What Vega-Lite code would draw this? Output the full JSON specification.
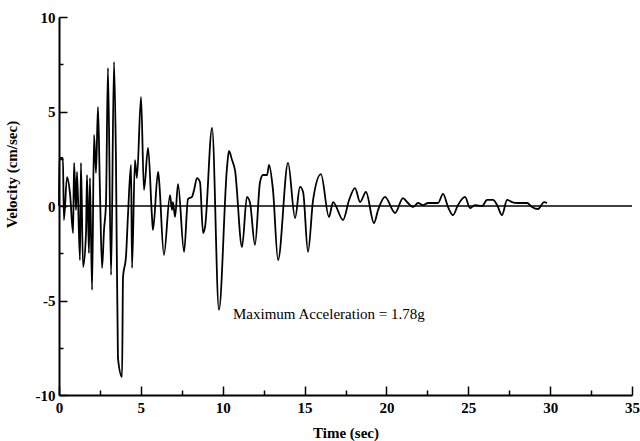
{
  "$schema": "https://vega.github.io/schema/vega-lite/v6.json",
  "width": 573,
  "height": 378,
  "autosize": {"type": "none"},
  "padding": {"left": 59, "top": 17, "right": 8, "bottom": 46},
  "background": "white",
  "config": {
    "view": {"stroke": null},
    "axis": {
      "domainColor": "black",
      "domainWidth": 2,
      "tickColor": "black",
      "tickWidth": 1.5,
      "grid": false,
      "labelFont": "Liberation Serif",
      "labelFontWeight": "bold",
      "labelFontSize": 15,
      "labelColor": "black",
      "labelOverlap": false,
      "labelFlush": false,
      "titleFont": "Liberation Serif",
      "titleFontWeight": "bold",
      "titleFontSize": 15,
      "titleColor": "black"
    }
  },
  "layer": [
    {
      "data": {"values": [{"v": 0}]},
      "mark": {"type": "rule", "color": "black", "strokeWidth": 1.5},
      "encoding": {
        "y": {"field": "v", "type": "quantitative", "scale": {"domain": [-10, 10]}}
      }
    },
    {
      "data": {"values": [
        {"t": 0, "v": 0}, {"t": 0.02, "v": 2.55}, {"t": 0.24, "v": 2.55}, {"t": 0.3, "v": -0.74},
        {"t": 0.49, "v": 1.53}, {"t": 0.67, "v": 0.69}, {"t": 0.86, "v": -1.43}, {"t": 0.92, "v": 2.28},
        {"t": 1.04, "v": -0.21}, {"t": 1.1, "v": 1.8}, {"t": 1.28, "v": -2.86}, {"t": 1.34, "v": 2.28},
        {"t": 1.47, "v": -3.23}, {"t": 1.65, "v": -1.43}, {"t": 1.71, "v": 1.64}, {"t": 1.83, "v": -2.49},
        {"t": 1.89, "v": 1.48}, {"t": 2.02, "v": -4.44}, {"t": 2.14, "v": 3.76}, {"t": 2.26, "v": 1.75},
        {"t": 2.38, "v": 5.24}, {"t": 2.5, "v": 0.85}, {"t": 2.63, "v": -3.28}, {"t": 2.75, "v": -1.27},
        {"t": 2.87, "v": 0.16}, {"t": 2.99, "v": 7.3}, {"t": 3.18, "v": -3.65}, {"t": 3.36, "v": 7.62},
        {"t": 3.48, "v": 2.43}, {"t": 3.6, "v": -8.04}, {"t": 3.85, "v": -9.05}, {"t": 3.91, "v": -3.76},
        {"t": 4.09, "v": -2.7}, {"t": 4.22, "v": -0.37}, {"t": 4.4, "v": 2.17}, {"t": 4.46, "v": -3.28},
        {"t": 4.64, "v": 2.43}, {"t": 4.76, "v": 1.48}, {"t": 5.01, "v": 5.77}, {"t": 5.19, "v": 0.85},
        {"t": 5.44, "v": 3.07}, {"t": 5.68, "v": -0.58}, {"t": 5.74, "v": -1.27}, {"t": 6.05, "v": 1.8},
        {"t": 6.11, "v": 1.38}, {"t": 6.41, "v": -2.59}, {"t": 6.78, "v": 0.58}, {"t": 6.9, "v": -0.21},
        {"t": 6.96, "v": 0.21}, {"t": 7.09, "v": -0.58}, {"t": 7.27, "v": 1.16}, {"t": 7.64, "v": -2.43},
        {"t": 7.88, "v": 0.37}, {"t": 8.12, "v": 0.48}, {"t": 8.25, "v": 0.85}, {"t": 8.43, "v": 1.48},
        {"t": 8.61, "v": 1.27}, {"t": 8.8, "v": -1.43}, {"t": 8.92, "v": -1.11}, {"t": 9.35, "v": 4.13},
        {"t": 9.77, "v": -5.5}, {"t": 10.26, "v": 2.01}, {"t": 10.38, "v": 2.91}, {"t": 10.57, "v": 2.43},
        {"t": 10.75, "v": 1.9}, {"t": 11.18, "v": -2.17}, {"t": 11.48, "v": 0.48}, {"t": 11.67, "v": 0.16},
        {"t": 11.97, "v": -2.06}, {"t": 12.28, "v": 1.27}, {"t": 12.46, "v": 1.64}, {"t": 12.71, "v": 1.64},
        {"t": 12.83, "v": 2.17}, {"t": 13.07, "v": 0.85}, {"t": 13.38, "v": -2.86}, {"t": 13.99, "v": 2.28},
        {"t": 14.42, "v": -0.64}, {"t": 14.72, "v": 1.01}, {"t": 14.91, "v": 0.74}, {"t": 15.21, "v": -2.43},
        {"t": 15.52, "v": 0.32}, {"t": 16.0, "v": 1.69}, {"t": 16.49, "v": -0.58}, {"t": 16.74, "v": 0.21},
        {"t": 17.35, "v": -0.74}, {"t": 17.72, "v": 0.32}, {"t": 18.08, "v": 0.95}, {"t": 18.39, "v": 0.21},
        {"t": 18.75, "v": 0.74}, {"t": 19.24, "v": -0.9}, {"t": 19.49, "v": -0.21}, {"t": 19.91, "v": 0.48},
        {"t": 20.53, "v": -0.37}, {"t": 21.01, "v": 0.42}, {"t": 21.26, "v": 0.21}, {"t": 21.63, "v": -0.05},
        {"t": 21.93, "v": 0.16}, {"t": 22.24, "v": 0.05}, {"t": 22.54, "v": 0.16}, {"t": 22.85, "v": 0.16},
        {"t": 23.15, "v": 0.16}, {"t": 23.46, "v": 0.64}, {"t": 23.76, "v": -0.05}, {"t": 24.07, "v": -0.48},
        {"t": 24.37, "v": 0.05}, {"t": 24.8, "v": 0.48}, {"t": 25.11, "v": -0.11}, {"t": 25.41, "v": 0.05},
        {"t": 25.84, "v": 0.0}, {"t": 26.15, "v": 0.32}, {"t": 26.51, "v": 0.32}, {"t": 26.76, "v": 0.05},
        {"t": 27.06, "v": -0.48}, {"t": 27.37, "v": 0.32}, {"t": 27.67, "v": 0.21}, {"t": 27.98, "v": 0.16},
        {"t": 28.28, "v": 0.16}, {"t": 28.59, "v": 0.16}, {"t": 28.89, "v": -0.05}, {"t": 29.26, "v": -0.16},
        {"t": 29.63, "v": 0.21}, {"t": 29.81, "v": 0.16}
      ]},
      "mark": {"type": "line", "color": "black", "strokeWidth": 1.8, "interpolate": "monotone"},
      "encoding": {
        "x": {
          "field": "t", "type": "quantitative",
          "scale": {"domain": [0, 35], "nice": false},
          "axis": {
            "title": "Time (sec)",
            "values": [0, 2.5, 5, 7.5, 10, 12.5, 15, 17.5, 20, 22.5, 25, 27.5, 30, 32.5, 35],
            "labelExpr": "datum.value % 5 === 0 ? '' + datum.value : ''",
            "tickSize": {"condition": {"test": "datum.value % 5 === 0", "value": -9}, "value": -5},
            "labelPadding": 14,
            "titlePadding": 6
          }
        },
        "y": {
          "field": "v", "type": "quantitative",
          "scale": {"domain": [-10, 10], "nice": false},
          "axis": {
            "title": "Velocity (cm/sec)",
            "values": [-10, -7.5, -5, -2.5, 0, 2.5, 5, 7.5, 10],
            "labelExpr": "datum.value % 5 === 0 ? '' + datum.value : ''",
            "tickSize": {"condition": {"test": "datum.value % 5 === 0", "value": -8}, "value": -4},
            "labelPadding": 12,
            "titleX": -40,
            "titleY": 157
          }
        }
      }
    },
    {
      "data": {"values": [{"t": 10.63, "v": -5.71, "label": "Maximum Acceleration = 1.78g"}]},
      "mark": {"type": "text", "align": "left", "baseline": "middle", "font": "Liberation Serif", "fontSize": 15, "color": "black"},
      "encoding": {
        "x": {"field": "t", "type": "quantitative"},
        "y": {"field": "v", "type": "quantitative"},
        "text": {"field": "label"}
      }
    }
  ]
}
